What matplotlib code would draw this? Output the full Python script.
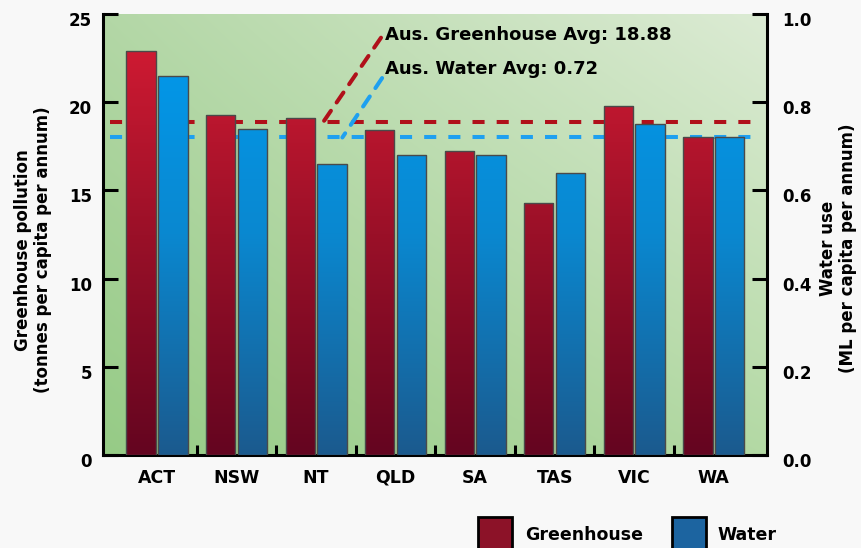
import numpy as np
import matplotlib
matplotlib.use('Agg')
import matplotlib.pyplot as plt
from matplotlib.colors import LinearSegmentedColormap, to_rgb
from matplotlib.patches import Rectangle
from matplotlib.transforms import ScaledTranslation

# per capita figures by state / territory
states = ['ACT', 'NSW', 'NT', 'QLD', 'SA', 'TAS', 'VIC', 'WA']
greenhouse = [22.9, 19.3, 19.1, 18.4, 17.25, 14.3, 19.8, 18.05]   # tonnes
water = [0.86, 0.74, 0.66, 0.68, 0.68, 0.64, 0.75, 0.72]          # ML
greenhouse_avg = 18.88
water_avg = 0.72

plt.rcParams['font.family'] = 'DejaVu Sans'
plt.rcParams['font.weight'] = 'bold'

red_line = '#b0101a'
blue_line = '#1ea0f0'

fig = plt.figure(figsize=(8.61, 5.48), dpi=100, facecolor='#f8f8f8')
ax = fig.add_axes([103 / 861, 93 / 548, 664 / 861, 441 / 548])
ax2 = ax.twinx()
ax.set_xlim(-0.68, 7.67)
ax.set_ylim(0, 25)
ax2.set_ylim(0, 1)

# green background, darker towards the bottom left
bl, br, tl, tr = [np.array(to_rgb(c)) for c in ('#96cb86', '#b3d9a4', '#b3d7a6', '#dcebd4')]
u = np.linspace(0, 1, 200)[None, :, None]
v = np.linspace(0, 1, 200)[:, None, None]
bg = (1 - v) * ((1 - u) * bl + u * br) + v * ((1 - u) * tl + u * tr)
ax.imshow(bg, origin='lower', extent=(0, 1, 0, 1), transform=ax.transAxes,
          aspect='auto', interpolation='bilinear', zorder=0)

# average lines (water line uses the right axis scale)
ax.plot([-0.59, 7.56], [greenhouse_avg] * 2, color=red_line, lw=2.9,
        ls=(0, (3, 3)), zorder=2)
ax.plot([-0.59, 7.56], [water_avg] * 2, color=blue_line, lw=2.9,
        ls=(0, (3, 3)), zorder=2, transform=ax2.transData)

x = np.arange(len(states))
w = 0.37
red_bars = ax.bar(x - 0.2, greenhouse, w, facecolor='none', edgecolor='#4a4a4a',
                  lw=1, zorder=4)
blue_bars = ax.bar(x + 0.2, water, w, facecolor='none', edgecolor='#4a4a4a',
                   lw=1, zorder=4, transform=ax2.transData)

# vertical colour gradient inside each bar
red_cmap = LinearSegmentedColormap.from_list('reds', ['#640520', '#9a1028', '#d81c34'])
blue_cmap = LinearSegmentedColormap.from_list('blues', ['#1b5a8e', '#0a88d0', '#009cf0'])
grad = np.linspace(0, 1, 256).reshape(-1, 1)
for bars, cmap in ((red_bars, red_cmap), (blue_bars, blue_cmap)):
    for b in bars:
        x0 = b.get_x()
        im = ax.imshow(grad, cmap=cmap, origin='lower', extent=(x0, x0 + w, 0, 25),
                       aspect='auto', interpolation='bilinear', zorder=3)
        im.set_clip_path(b)

ax.set_xlim(-0.68, 7.67)
ax.set_ylim(0, 25)

# labels for the averages with dashed leaders
ax.annotate(f'Aus. Greenhouse Avg: {greenhouse_avg:.2f}', xy=(2.09, greenhouse_avg),
            xytext=(2.87, 23.81), fontsize=13, fontweight='bold', va='center', ha='left',
            arrowprops=dict(arrowstyle='-', color=red_line, lw=2.9, linestyle=(0, (3, 2.5)),
                            shrinkA=0, shrinkB=0, relpos=(-0.015, 0.35)), zorder=5)
ax.annotate(f'Aus. Water Avg: {water_avg:.2f}', xy=(2.33, water_avg), xycoords=ax2.transData,
            xytext=(2.87, 21.88), textcoords='data', fontsize=13, fontweight='bold',
            va='center', ha='left',
            arrowprops=dict(arrowstyle='-', color=blue_line, lw=2.9, linestyle=(0, (3, 2.5)),
                            shrinkA=0, shrinkB=0, relpos=(-0.015, 0.0)), zorder=5)

# axes, ticks and spines
ax.set_yticks(range(0, 26, 5))
ax.tick_params(axis='y', direction='in', length=11, width=2.2, pad=8, labelsize=12)
ax2.set_yticks(np.arange(0, 1.01, 0.2))
ax2.set_yticklabels([f'{t:.1f}' for t in np.arange(0, 1.01, 0.2)])
ax2.tick_params(axis='y', direction='in', length=11, width=2.2, pad=11, labelsize=12)
ax.set_xticks(x)
ax.set_xticklabels(states)
ax.set_xticks(x[:-1] + 0.5, minor=True)
ax.tick_params(axis='x', which='major', length=0, pad=10, labelsize=12.5)
ax.tick_params(axis='x', which='minor', direction='in', length=7, width=2.2)

for s in ('top', 'right'):
    ax.spines[s].set_visible(False)
for s in ('left', 'bottom'):
    ax.spines[s].set_linewidth(2.2)
for s in ('top', 'left', 'bottom'):
    ax2.spines[s].set_visible(False)
ax2.spines['right'].set_linewidth(2.2)

shift = ScaledTranslation(0, -5 / 100, fig.dpi_scale_trans)
for lab in ax.get_yticklabels() + ax2.get_yticklabels():
    lab.set_transform(lab.get_transform() + shift)

ax.set_ylabel('Greenhouse pollution\n(tonnes per capita per annum)', fontsize=12,
              fontweight='bold', va='center')
ax.yaxis.set_label_coords(33 / 861, 1 - 250 / 548, transform=fig.transFigure)
ax2.set_ylabel('Water use\n(ML per capita per annum)', fontsize=12,
               fontweight='bold', va='center')
ax2.yaxis.set_label_coords(838 / 861, 1 - 248 / 548, transform=fig.transFigure)

# legend along the bottom edge
for lx, color, tx, name in ((478, '#8c1228', 525, 'Greenhouse'), (672, '#1c64a0', 717, 'Water')):
    fig.add_artist(Rectangle((lx / 861, -3 / 548), 34 / 861, 34 / 548, transform=fig.transFigure,
                             facecolor=color, edgecolor='black', lw=2))
    fig.text(tx / 861, 1 - 535 / 548, name, fontsize=12.5, fontweight='bold', va='center')

fig.savefig('out.png', dpi=100, facecolor=fig.get_facecolor())
